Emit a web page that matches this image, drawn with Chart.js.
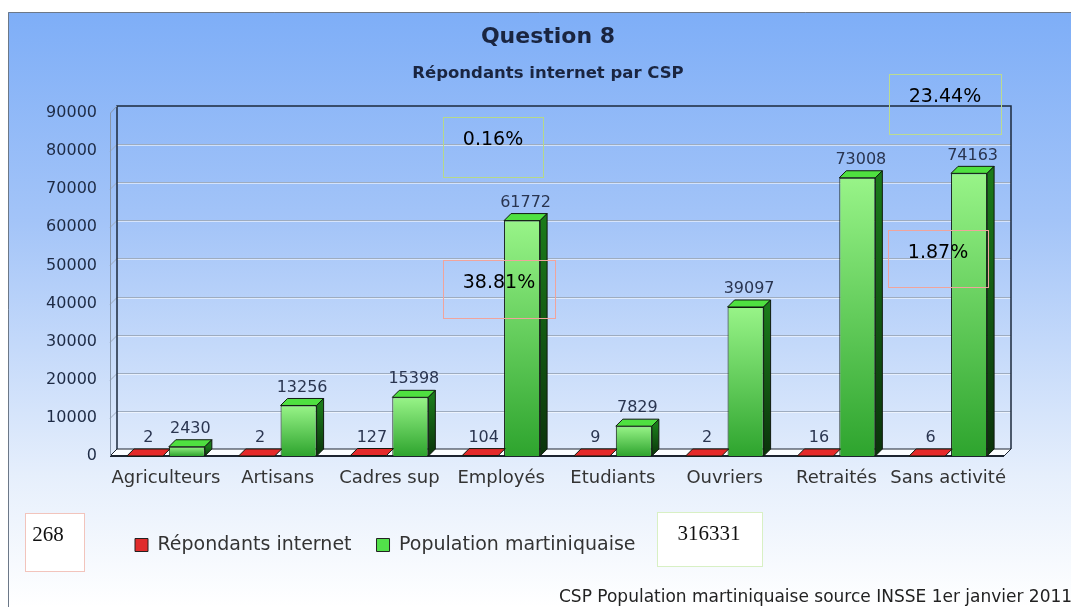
<!DOCTYPE html>
<html>
<head>
<meta charset="utf-8">
<script src="https://cdn.jsdelivr.net/npm/chart.js@4.4.1/dist/chart.umd.min.js"></script>
<style>
  html, body { margin: 0; padding: 0; background: #fff; }
  canvas { display: block; }
</style>
</head>
<body>
<canvas id="chart" width="1071" height="607"></canvas>
<script>
const categories = ['Agriculteurs', 'Artisans', 'Cadres sup', 'Employés', 'Etudiants', 'Ouvriers', 'Retraités', 'Sans activité'];
const repondants = [2, 2, 127, 104, 9, 2, 16, 6];
const population = [2430, 13256, 15398, 61772, 7829, 39097, 73008, 74163];
const seriesNames = ['Répondants internet', 'Population martiniquaise'];
const yTicks = [0, 10000, 20000, 30000, 40000, 50000, 60000, 70000, 80000, 90000];
const noteTexts = ['0.16%', '38.81%', '23.44%', '1.87%'];
const totalTexts = ['268', '316331'];
const footerText = 'CSP Population martiniquaise source INSSE 1er janvier 2011';

const D = 7; // depth of the fake 3d
const FONT = "'DejaVu Sans', sans-serif";
Chart.defaults.font.family = FONT;

const legendColors = ['#e02c2c', '#52e04a'];
const topColors = ['#e52a2a', '#4fe040'];
const sideColors = ['#8a1212', '#1a7a1a'];

// boxes drawn over the chart: x, y, w, h, border colour
const noteBoxes = [
  [443, 117, 100, 60, '#b6d88a'],
  [443, 260, 112, 58, '#f0a49c'],
  [889, 74, 112, 60, '#bcdb90'],
  [888, 230, 100, 57, '#f0a49c']
];
const totalBoxes = [
  [25, 513, 59, 58, '#f2c4bc', 48],
  [657, 512, 105, 54, '#d8f0c4', 709]
];

const greenFront = (c) => {
  const chart = c.chart;
  if (!chart.chartArea || c.type !== 'data') return '#4cd44c';
  const y = chart.scales.y;
  const top = y.getPixelForValue(c.raw);
  const base = y.getPixelForValue(0);
  const g = chart.ctx.createLinearGradient(0, top, 0, base);
  g.addColorStop(0, '#98f488');
  g.addColorStop(1, '#2ea42e');
  return g;
};

const fake3d = {
  id: 'fake3d',
  beforeDraw(chart) {
    const { ctx, width, height } = chart;
    ctx.save();
    ctx.fillStyle = '#fff';
    ctx.fillRect(0, 0, width, height);
    const g = ctx.createLinearGradient(0, 12, 0, height);
    g.addColorStop(0, '#7eaef7');
    g.addColorStop(0.35, '#a3c4f8');
    g.addColorStop(0.78, '#e6effc');
    g.addColorStop(1, '#ffffff');
    ctx.fillStyle = g;
    ctx.fillRect(8, 12, width - 8, height - 12);
    ctx.strokeStyle = '#6c7888';
    ctx.lineWidth = 1;
    ctx.beginPath();
    ctx.moveTo(8.5, height);
    ctx.lineTo(8.5, 12.5);
    ctx.lineTo(width, 12.5);
    ctx.stroke();
    ctx.restore();
  },
  beforeDatasetsDraw(chart) {
    const { ctx, chartArea: a, scales: { y } } = chart;
    const b = y.getPixelForValue(0);
    const t = y.getPixelForValue(y.max);
    ctx.save();
    ctx.lineWidth = 1;
    yTicks.forEach(v => {
      if (v === 0 || v === y.max) return;
      const py = Math.round(y.getPixelForValue(v)) + 0.5;
      ctx.strokeStyle = '#9eacbf';
      ctx.beginPath();
      ctx.moveTo(a.left, py);
      ctx.lineTo(a.left + D, py - D);
      ctx.lineTo(a.right + D, py - D);
      ctx.stroke();
      ctx.strokeStyle = 'rgba(255,255,255,0.55)';
      ctx.beginPath();
      ctx.moveTo(a.left + D, py - D + 1);
      ctx.lineTo(a.right + D, py - D + 1);
      ctx.stroke();
    });
    // floor
    ctx.fillStyle = '#fbfdff';
    ctx.beginPath();
    ctx.moveTo(a.left, b);
    ctx.lineTo(a.right, b);
    ctx.lineTo(a.right + D, b - D);
    ctx.lineTo(a.left + D, b - D);
    ctx.closePath();
    ctx.fill();
    ctx.strokeStyle = '#1c2430';
    ctx.stroke();
    ctx.lineWidth = 2;
    ctx.beginPath();
    ctx.moveTo(a.left, b);
    ctx.lineTo(a.right, b);
    ctx.stroke();
    // walls
    ctx.strokeStyle = '#1d2a3c';
    ctx.lineWidth = 1.5;
    ctx.beginPath();
    ctx.moveTo(a.left + D, b - D);
    ctx.lineTo(a.left + D, t - D);
    ctx.lineTo(a.right + D, t - D);
    ctx.lineTo(a.right + D, b - D);
    ctx.stroke();
    ctx.strokeStyle = '#8796aa';
    ctx.lineWidth = 1;
    ctx.beginPath();
    ctx.moveTo(a.left + 0.5, b);
    ctx.lineTo(a.left + 0.5, t);
    ctx.lineTo(a.left + D, t - D);
    ctx.stroke();
    ctx.restore();
  },
  afterDatasetsDraw(chart) {
    const { ctx } = chart;
    ctx.save();
    ctx.lineWidth = 1;
    ctx.strokeStyle = '#101a10';
    chart.data.datasets.forEach((ds, i) => {
      const meta = chart.getDatasetMeta(i);
      meta.data.forEach((bar, j) => {
        const { x, y: top, base, width } = bar.getProps(['x', 'y', 'base', 'width'], true);
        const l = x - width / 2, r = x + width / 2;
        ctx.fillStyle = topColors[i];
        ctx.beginPath();
        ctx.moveTo(l, top);
        ctx.lineTo(l + D, top - D);
        ctx.lineTo(r + D, top - D);
        ctx.lineTo(r, top);
        ctx.closePath();
        ctx.fill();
        ctx.stroke();
        if (base - top > 1) {
          const g = ctx.createLinearGradient(0, top, 0, base);
          g.addColorStop(0, sideColors[i]);
          g.addColorStop(1, '#0b330b');
          ctx.fillStyle = g;
          ctx.beginPath();
          ctx.moveTo(r, top);
          ctx.lineTo(r + D, top - D);
          ctx.lineTo(r + D, base - D);
          ctx.lineTo(r, base);
          ctx.closePath();
          ctx.fill();
          ctx.stroke();
        }
        ctx.fillStyle = '#2a3550';
        ctx.font = '16px ' + FONT;
        ctx.textAlign = 'center';
        ctx.textBaseline = 'bottom';
        ctx.fillText(String(ds.data[j]), x + D / 2, top - D - 3);
      });
    });
    ctx.restore();
  },
  afterDraw(chart) {
    const { ctx } = chart;
    ctx.save();
    ctx.lineWidth = 1;
    ctx.textAlign = 'center';
    ctx.textBaseline = 'middle';
    noteBoxes.forEach(([x, y, w, h, col], i) => {
      ctx.strokeStyle = col;
      ctx.strokeRect(x + 0.5, y + 0.5, w, h);
      ctx.fillStyle = '#000';
      ctx.font = '19px ' + FONT;
      ctx.fillText(noteTexts[i], x + w / 2, y + 23);
    });
    totalBoxes.forEach(([x, y, w, h, col, tx], i) => {
      ctx.fillStyle = '#fff';
      ctx.fillRect(x, y, w, h);
      ctx.strokeStyle = col;
      ctx.strokeRect(x + 0.5, y + 0.5, w, h);
      ctx.fillStyle = '#111';
      ctx.font = "21px 'Liberation Serif', serif";
      ctx.fillText(totalTexts[i], tx, y + 22);
    });
    ctx.fillStyle = '#222';
    ctx.font = '17px ' + FONT;
    ctx.textAlign = 'left';
    ctx.fillText(footerText, 559, 598);
    ctx.restore();
  }
};

new Chart(document.getElementById('chart'), {
  type: 'bar',
  data: {
    labels: categories,
    datasets: [
      { label: seriesNames[0], data: repondants, backgroundColor: '#c41a1a', borderColor: '#3a0c0c', borderWidth: 1 },
      { label: seriesNames[1], data: population, backgroundColor: greenFront, borderColor: '#101a10', borderWidth: 1 }
    ]
  },
  options: {
    responsive: false,
    animation: false,
    devicePixelRatio: 1,
    layout: { padding: { left: 45, right: 20, top: 12, bottom: 42.5 } },
    datasets: { bar: { categoryPercentage: 0.75, barPercentage: 0.86 } },
    scales: {
      x: {
        grid: { display: false, drawTicks: false },
        border: { display: false },
        ticks: { padding: 12, color: '#333', font: { size: 18 }, maxRotation: 0, minRotation: 0, autoSkip: false },
        afterFit(s) { s.height = 54.5; }
      },
      y: {
        min: 0,
        max: 90000,
        grid: { display: false, drawTicks: false },
        border: { display: false },
        ticks: { padding: 13, color: '#1e2b45', font: { size: 16 }, callback: v => String(v) },
        afterBuildTicks(s) { s.ticks = yTicks.map(v => ({ value: v })); },
        afterFit(s) { s.width = 65; }
      },
      spacer: {
        type: 'linear',
        position: 'right',
        display: true,
        grid: { display: false, drawTicks: false },
        border: { display: false },
        ticks: { display: false },
        afterFit(s) { s.width = 47; }
      }
    },
    plugins: {
      title: {
        display: true,
        text: 'Question 8',
        color: '#1a2540',
        font: { size: 22, weight: 'bold' },
        padding: { top: 12, bottom: 6 }
      },
      subtitle: {
        display: true,
        text: 'Répondants internet par CSP',
        color: '#1a2540',
        font: { size: 16.5, weight: 'bold' },
        padding: { top: 7, bottom: 29.8 }
      },
      legend: {
        position: 'bottom',
        align: 'start',
        fullSize: false,
        labels: {
          boxWidth: 13,
          boxHeight: 13,
          padding: 25,
          color: '#333',
          font: { size: 19 },
          generateLabels(chart) {
            const items = Chart.defaults.plugins.legend.labels.generateLabels(chart);
            items.forEach((it, i) => {
              it.fillStyle = legendColors[i];
              it.strokeStyle = '#222';
              it.lineWidth = 1;
            });
            return items;
          }
        }
      },
      tooltip: { enabled: false }
    }
  },
  plugins: [fake3d]
});
</script>
</body>
</html>
